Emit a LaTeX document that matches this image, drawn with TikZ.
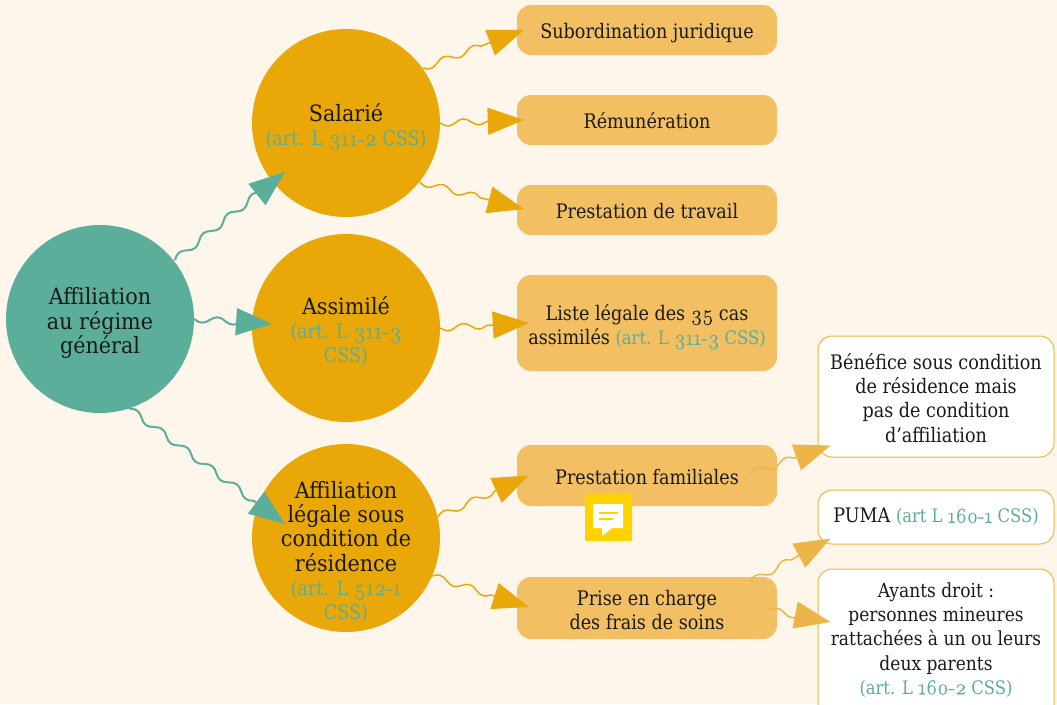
\documentclass[tikz,border=0pt]{standalone}
\usepackage{fontspec}
\setmainfont[FakeStretch=0.88]{DejaVu Serif}
\newfontfamily\circfont[FakeStretch=0.92]{DejaVu Serif}
\newfontfamily\oldnum[Numbers=OldStyle,FakeBold=0.25]{Latin Modern Roman}
\usetikzlibrary{decorations,arrows.meta,calc}
\definecolor{bgc}{HTML}{FEF6EB}
\definecolor{tealc}{HTML}{5BAE9A}
\definecolor{goldc}{HTML}{E9A807}
\definecolor{softc}{HTML}{F2BF63}
\definecolor{softa}{HTML}{EDB548}
\definecolor{inkc}{HTML}{1A1A1A}
\definecolor{noteY}{HTML}{FFD200}
\newcommand{\artref}[1]{{\fontsize{20}{24.2}\selectfont\normalfont\textcolor{tealc}{#1}}}
\newcommand{\artrefb}[1]{{\fontsize{18.6}{24.2}\selectfont\normalfont\textcolor{tealc}{#1}}}
\newcommand{\dg}[1]{{\oldnum\fontsize{23}{24}\selectfont #1}}
\newcommand{\dgb}[1]{{\oldnum\fontsize{21.5}{24}\selectfont #1}}
\pgfdeclaredecoration{softwave}{up}{
  \state{up}[switch if less than=.5\pgfdecorationsegmentlength to final,width=.5\pgfdecorationsegmentlength,next state=down]{
    \pgfpathcurveto
      {\pgfpoint{.182*\pgfdecorationsegmentlength}{1.333*\pgfdecorationsegmentamplitude}}
      {\pgfpoint{.318*\pgfdecorationsegmentlength}{1.333*\pgfdecorationsegmentamplitude}}
      {\pgfpoint{.5*\pgfdecorationsegmentlength}{0pt}}
  }
  \state{down}[switch if less than=.5\pgfdecorationsegmentlength to final,width=.5\pgfdecorationsegmentlength,next state=up]{
    \pgfpathcurveto
      {\pgfpoint{.182*\pgfdecorationsegmentlength}{-1.333*\pgfdecorationsegmentamplitude}}
      {\pgfpoint{.318*\pgfdecorationsegmentlength}{-1.333*\pgfdecorationsegmentamplitude}}
      {\pgfpoint{.5*\pgfdecorationsegmentlength}{0pt}}
  }
  \state{final}{\pgfpathlineto{\pgfpointdecoratedpathlast}}
}
\tikzset{
  x=1pt,y=-1pt,
  txt/.style={text=inkc,align=center,inner sep=0pt,font=\fontsize{20}{24.2}\selectfont},
  ctxt/.style={text=inkc,align=center,inner sep=0pt,font=\circfont\fontsize{22.5}{24.2}\selectfont},
  bigc/.style={circle,fill=#1,minimum size=188pt,inner sep=0pt},
  softbox/.style={rectangle,rounded corners=14pt,fill=softc,minimum width=260pt,inner sep=0pt},
  whitebox/.style={rectangle,rounded corners=14pt,draw=softa,line width=1pt,fill=white,minimum width=236pt,inner sep=0pt},
  wave/.style={decorate,decoration={softwave,amplitude=3.2pt,segment length=31pt,post length=31pt},line width=#1},
  flip/.style={decoration={softwave,amplitude=3.2pt,segment length=31pt,post length=31pt,mirror}},
  gl/.style={draw=goldc,wave=1.5pt,-{Triangle[length=36pt,width=27pt,fill=goldc]}},
  tl/.style={draw=tealc,wave=2pt,-{Triangle[length=36pt,width=27pt,fill=tealc]}},
  sl/.style={draw=softa,wave=1.5pt,-{Triangle[length=36pt,width=27pt,fill=softa]}}
}
\begin{document}
\begin{tikzpicture}
\useasboundingbox[fill=bgc] (0,0) rectangle (1057,704);
\begin{scope}
\clip (0,0) rectangle (1057,704);
\node[bigc=tealc] (root) at (100,319) {};
\node[bigc=goldc] (sal) at (346,123) {};
\node[bigc=goldc] (ass) at (346,328) {};
\node[bigc=goldc] (res) at (346,538) {};
\node[ctxt] (roott) at (100,323) {Affiliation\\au régime\\général};
\node[ctxt] (salt) at (346,127) {Salarié\\\artref{(art. L \dg{311-2} CSS)}};
\node[ctxt] (asst) at (346,331) {Assimilé\\\artref{(art. L \dg{311-3}}\\\artref{CSS)}};
\node[ctxt] (rest) at (346,552) {Affiliation\\légale sous\\condition de\\résidence\\\artref{(art. L \dg{512-1}}\\\artref{CSS)}};
\node[softbox,minimum height=50pt] (b1) at (647,30) {};
\node[softbox,minimum height=50pt] (b2) at (647,120) {};
\node[softbox,minimum height=50pt] (b3) at (647,210) {};
\node[softbox,minimum height=96pt] (b4) at (647,323) {};
\node[softbox,minimum height=61pt] (b5) at (647,475.5) {};
\node[softbox,minimum height=62pt] (b6) at (647,608) {};
\node[txt] (b1t) at (647,33) {Subordination juridique};
\node[txt] (b2t) at (647,121) {Rémunération};
\node[txt] (b3t) at (647,211) {Prestation de travail};
\node[txt] (b4t) at (647,327) {Liste légale des \dgb{35} cas\\assimilés \artrefb{(art. L \dgb{311-3} CSS)}};
\node[txt] (b5t) at (647,477) {Prestation familiales};
\node[txt] (b6t) at (647,610) {Prise en charge\\des frais de soins};
\node[whitebox,minimum height=121pt] (w1) at (936,396.5) {};
\node[whitebox,minimum height=54pt] (w2) at (936,517) {};
\node[whitebox,minimum height=150pt] (w3) at (936,644) {};
\node[txt] (w1t) at (936,398) {Bénéfice sous condition\\de résidence mais\\pas de condition\\d’affiliation};
\node[txt] (w2t) at (936,517) {PUMA \artrefb{(art L \dgb{160-1} CSS)}};
\node[txt,font=\fontsize{19.4}{24.2}\selectfont] (w3t) at (936,640) {Ayants droit :\\personnes mineures\\rattachées à un ou leurs\\deux parents\\\artrefb{(art. L \dgb{160-2} CSS)}};
\draw[tl] ([shift={(75,-59)}]root.center) to ([shift={(-61,49)}]sal.center);
\draw[tl,flip] (root.east) to ([shift={(-74,-4)}]ass.center);
\draw[tl] (root.-72) to ([shift={(-61,-14)}]res.center);
\draw[gl,flip] ([shift={(77,-55)}]sal.center) to ([shift={(7,0)}]b1.west);
\draw[gl,flip] (sal.east) to ([shift={(7,0)}]b2.west);
\draw[gl,flip] ([shift={(74,59)}]sal.center) to ([shift={(7,-1)}]b3.west);
\draw[gl,flip] (ass.east) to ([shift={(12,0)}]b4.west);
\draw[gl] ([shift={(92,-21)}]res.center) to ([shift={(12,0)}]b5.west);
\draw[gl] ([shift={(86,38)}]res.center) to ([shift={(12,-1)}]b6.west);
\draw[sl] ([shift={(-27,-2)}]b5.east) to ([shift={(13,-12)}]w1.south west);
\draw[sl] ([shift={(-27,-26)}]b6.east) to ([shift={(13,-6)}]w2.south west);
\draw[sl] ([shift={(-8,2)}]b6.east) to ([shift={(13,-22)}]w3.west);
\end{scope}
\fill[noteY,rounded corners=1pt] (585,494) rectangle (632,541);
\fill[white] (593,504) -- (623,504) -- (623,528) -- (612,528) -- (602,536) -- (602,528) -- (593,528) -- cycle;
\draw[noteY,line width=1.2pt] (599,513) -- (618,513);
\draw[noteY,line width=1.2pt] (599,519) -- (613,519);
\end{tikzpicture}
\end{document}
